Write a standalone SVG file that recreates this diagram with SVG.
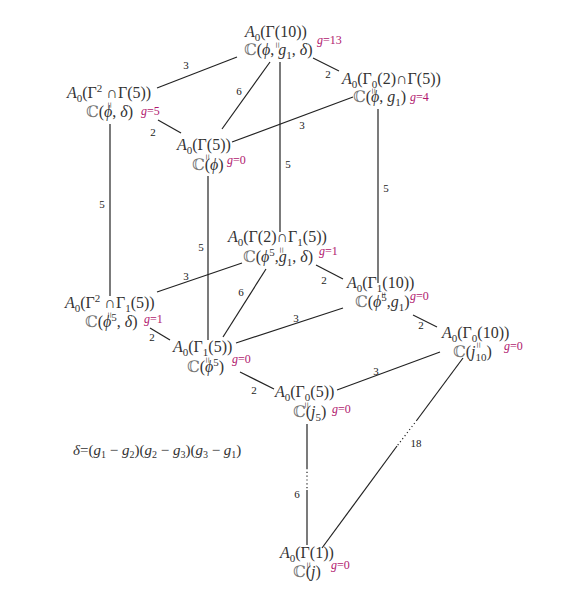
<svg xmlns="http://www.w3.org/2000/svg" xmlns:xlink="http://www.w3.org/1999/xlink" width="587" height="600" viewBox="0 0 587 600">
<style>
.t{font-family:"Liberation Serif","DejaVu Serif",serif;font-size:16px;fill:#333}
.i{font-style:italic}
.s{font-size:11px}
.c{fill:#777}
.g{font-family:"Liberation Serif","DejaVu Serif",serif;font-size:12px;fill:#b0186e}
.l{font-family:"Liberation Serif","DejaVu Serif",serif;font-size:11px;fill:#222;text-anchor:middle}
.e{stroke:#222;stroke-width:1.2;fill:none}
.d{stroke:#222;stroke-width:1.2;fill:none;stroke-dasharray:1.2 2.6}
.iso{font-family:"Liberation Serif","DejaVu Serif",serif;font-size:11px;fill:#444;text-anchor:middle;dominant-baseline:central}
</style>
<defs>
<text id="iso" class="iso" transform="rotate(90)">=</text>
</defs>
<rect width="587" height="600" fill="#fff"/>
<g id="connectors">
<line class="e" x1="157" y1="88" x2="237" y2="57"/>
<line class="e" x1="270" y1="62" x2="222" y2="129"/>
<line class="e" x1="280" y1="62" x2="280" y2="232"/>
<line class="e" x1="313" y1="58" x2="339" y2="71"/>
<line class="e" x1="158" y1="120" x2="181" y2="133"/>
<line class="e" x1="353" y1="97" x2="232" y2="142"/>
<line class="e" x1="110" y1="124" x2="110" y2="296"/>
<line class="e" x1="208" y1="176" x2="208" y2="340"/>
<line class="e" x1="378" y1="109" x2="378" y2="283"/>
<line class="e" x1="242" y1="263" x2="157" y2="292"/>
<line class="e" x1="266" y1="269" x2="223" y2="337"/>
<line class="e" x1="316" y1="265" x2="343" y2="279"/>
<line class="e" x1="150" y1="328" x2="170" y2="340"/>
<line class="e" x1="343" y1="308" x2="236" y2="343"/>
<line class="e" x1="413" y1="315" x2="437" y2="327"/>
<line class="e" x1="240" y1="372" x2="274" y2="389"/>
<line class="e" x1="440" y1="352" x2="337" y2="390"/>
<line class="e" x1="307" y1="424" x2="307" y2="468"/>
<line class="d" x1="307" y1="468" x2="307" y2="490"/>
<line class="e" x1="307" y1="490" x2="307" y2="545"/>
<line class="e" x1="463" y1="358" x2="417" y2="420"/>
<line class="d" x1="417" y1="420" x2="397" y2="446"/>
<line class="e" x1="397" y1="446" x2="322" y2="548"/>
<text class="l" x="186" y="69">3</text>
<text class="l" x="239" y="95">6</text>
<text class="l" x="328" y="78">2</text>
<text class="l" x="288" y="168">5</text>
<text class="l" x="153" y="136">2</text>
<text class="l" x="302" y="129">3</text>
<text class="l" x="102" y="208">5</text>
<text class="l" x="201" y="251">5</text>
<text class="l" x="386" y="192">5</text>
<text class="l" x="186" y="280">3</text>
<text class="l" x="241" y="296">6</text>
<text class="l" x="324" y="284">2</text>
<text class="l" x="152" y="341">2</text>
<text class="l" x="296" y="322">3</text>
<text class="l" x="421" y="329">2</text>
<text class="l" x="254" y="394">2</text>
<text class="l" x="376" y="375">3</text>
<text class="l" x="297" y="498">6</text>
<text class="l" x="416" y="447">18</text>
</g>
<g id="n_G10">
<text class="t" x="245" y="37"><tspan class="i">A</tspan><tspan class="s" dy="4">0</tspan><tspan dy="-4">(Γ(10))</tspan></text>
<use xlink:href="#iso" href="#iso" transform="translate(278,45)"/>
<text class="t" x="244" y="55"><tspan class="c">ℂ</tspan>(<tspan class="i">ϕ</tspan>, <tspan class="i">g</tspan><tspan class="s" dy="4">1</tspan><tspan dy="-4">, </tspan><tspan class="i">δ</tspan>)</text>
<text class="g" x="317" y="44"><tspan class="i">g</tspan>=13</text>
</g>
<g id="n_G02G5">
<text class="t" x="342" y="84"><tspan class="i">A</tspan><tspan class="s" dy="4">0</tspan><tspan dy="-4">(Γ</tspan><tspan class="s" dy="4">0</tspan><tspan dy="-4">(2)∩Γ(5))</tspan></text>
<use xlink:href="#iso" href="#iso" transform="translate(374,91)"/>
<text class="t" x="353" y="102"><tspan class="c">ℂ</tspan>(<tspan class="i">ϕ</tspan>, <tspan class="i">g</tspan><tspan class="s" dy="4">1</tspan><tspan dy="-4">)</tspan></text>
<text class="g" x="410" y="101"><tspan class="i">g</tspan>=4</text>
</g>
<g id="n_G2G5">
<text class="t" x="67" y="98"><tspan class="i">A</tspan><tspan class="s" dy="4">0</tspan><tspan dy="-4">(Γ</tspan><tspan class="s" dy="-6">2</tspan><tspan dy="6"> ∩Γ(5))</tspan></text>
<use xlink:href="#iso" href="#iso" transform="translate(110,105)"/>
<text class="t" x="86" y="117"><tspan class="c">ℂ</tspan>(<tspan class="i">ϕ</tspan>, <tspan class="i">δ</tspan>)</text>
<text class="g" x="141" y="115"><tspan class="i">g</tspan>=5</text>
</g>
<g id="n_G5">
<text class="t" x="177" y="150"><tspan class="i">A</tspan><tspan class="s" dy="4">0</tspan><tspan dy="-4">(Γ(5))</tspan></text>
<use xlink:href="#iso" href="#iso" transform="translate(208,157)"/>
<text class="t" x="192" y="170"><tspan class="c">ℂ</tspan>(<tspan class="i">ϕ</tspan>)</text>
<text class="g" x="227" y="164"><tspan class="i">g</tspan>=0</text>
</g>
<g id="n_G2G15">
<text class="t" x="228" y="242"><tspan class="i">A</tspan><tspan class="s" dy="4">0</tspan><tspan dy="-4">(Γ(2)∩Γ</tspan><tspan class="s" dy="4">1</tspan><tspan dy="-4">(5))</tspan></text>
<use xlink:href="#iso" href="#iso" transform="translate(282,250)"/>
<text class="t" x="243" y="262"><tspan class="c">ℂ</tspan>(<tspan class="i">ϕ</tspan><tspan class="s" dy="-6">5</tspan><tspan dy="6">,</tspan><tspan class="i">g</tspan><tspan class="s" dy="4">1</tspan><tspan dy="-4">, </tspan><tspan class="i">δ</tspan>)</text>
<text class="g" x="319" y="255"><tspan class="i">g</tspan>=1</text>
</g>
<g id="n_G110">
<text class="t" x="347" y="288"><tspan class="i">A</tspan><tspan class="s" dy="4">0</tspan><tspan dy="-4">(Γ</tspan><tspan class="s" dy="4">1</tspan><tspan dy="-4">(10))</tspan></text>
<use xlink:href="#iso" href="#iso" transform="translate(384,295)"/>
<text class="t" x="355" y="307"><tspan class="c">ℂ</tspan>(<tspan class="i">ϕ</tspan><tspan class="s" dy="-6">5</tspan><tspan dy="6">,</tspan><tspan class="i">g</tspan><tspan class="s" dy="4">1</tspan><tspan dy="-4">)</tspan></text>
<text class="g" x="410" y="300"><tspan class="i">g</tspan>=0</text>
</g>
<g id="n_G2G15b">
<text class="t" x="65" y="308"><tspan class="i">A</tspan><tspan class="s" dy="4">0</tspan><tspan dy="-4">(Γ</tspan><tspan class="s" dy="-6">2</tspan><tspan dy="6"> ∩Γ</tspan><tspan class="s" dy="4">1</tspan><tspan dy="-4">(5))</tspan></text>
<use xlink:href="#iso" href="#iso" transform="translate(110,315)"/>
<text class="t" x="85" y="327"><tspan class="c">ℂ</tspan>(<tspan class="i">ϕ</tspan><tspan class="s" dy="-6">5</tspan><tspan dy="6">, </tspan><tspan class="i">δ</tspan>)</text>
<text class="g" x="144" y="323"><tspan class="i">g</tspan>=1</text>
</g>
<g id="n_G15">
<text class="t" x="173" y="352"><tspan class="i">A</tspan><tspan class="s" dy="4">0</tspan><tspan dy="-4">(Γ</tspan><tspan class="s" dy="4">1</tspan><tspan dy="-4">(5))</tspan></text>
<use xlink:href="#iso" href="#iso" transform="translate(208,360)"/>
<text class="t" x="187" y="372"><tspan class="c">ℂ</tspan>(<tspan class="i">ϕ</tspan><tspan class="s" dy="-6">5</tspan><tspan dy="6">)</tspan></text>
<text class="g" x="232" y="363"><tspan class="i">g</tspan>=0</text>
</g>
<g id="n_G010">
<text class="t" x="442" y="338"><tspan class="i">A</tspan><tspan class="s" dy="4">0</tspan><tspan dy="-4">(Γ</tspan><tspan class="s" dy="4">0</tspan><tspan dy="-4">(10))</tspan></text>
<use xlink:href="#iso" href="#iso" transform="translate(479,345)"/>
<text class="t" x="453" y="357"><tspan class="c">ℂ</tspan>(<tspan class="i">j</tspan><tspan class="s" dy="4">10</tspan><tspan dy="-4">)</tspan></text>
<text class="g" x="504" y="350"><tspan class="i">g</tspan>=0</text>
</g>
<g id="n_G05">
<text class="t" x="275" y="397"><tspan class="i">A</tspan><tspan class="s" dy="4">0</tspan><tspan dy="-4">(Γ</tspan><tspan class="s" dy="4">0</tspan><tspan dy="-4">(5))</tspan></text>
<use xlink:href="#iso" href="#iso" transform="translate(307,405)"/>
<text class="t" x="293" y="417"><tspan class="c">ℂ</tspan>(<tspan class="i">j</tspan><tspan class="s" dy="4">5</tspan><tspan dy="-4">)</tspan></text>
<text class="g" x="332" y="413"><tspan class="i">g</tspan>=0</text>
</g>
<g id="n_G1">
<text class="t" x="280" y="558"><tspan class="i">A</tspan><tspan class="s" dy="4">0</tspan><tspan dy="-4">(Γ(1))</tspan></text>
<use xlink:href="#iso" href="#iso" transform="translate(309,565)"/>
<text class="t" x="293" y="577"><tspan class="c">ℂ</tspan>(<tspan class="i">j</tspan>)</text>
<text class="g" x="331" y="569"><tspan class="i">g</tspan>=0</text>
</g>
<g id="formula">
<text class="t" x="73" y="455" style="font-size:15px"><tspan class="i">δ</tspan>=(<tspan class="i">g</tspan><tspan dy="3" style="font-size:10px">1</tspan><tspan dy="-3"> − </tspan><tspan class="i">g</tspan><tspan dy="3" style="font-size:10px">2</tspan><tspan dy="-3">)(</tspan><tspan class="i">g</tspan><tspan dy="3" style="font-size:10px">2</tspan><tspan dy="-3"> − </tspan><tspan class="i">g</tspan><tspan dy="3" style="font-size:10px">3</tspan><tspan dy="-3">)(</tspan><tspan class="i">g</tspan><tspan dy="3" style="font-size:10px">3</tspan><tspan dy="-3"> − </tspan><tspan class="i">g</tspan><tspan dy="3" style="font-size:10px">1</tspan><tspan dy="-3">)</tspan></text>
</g>
</svg>
